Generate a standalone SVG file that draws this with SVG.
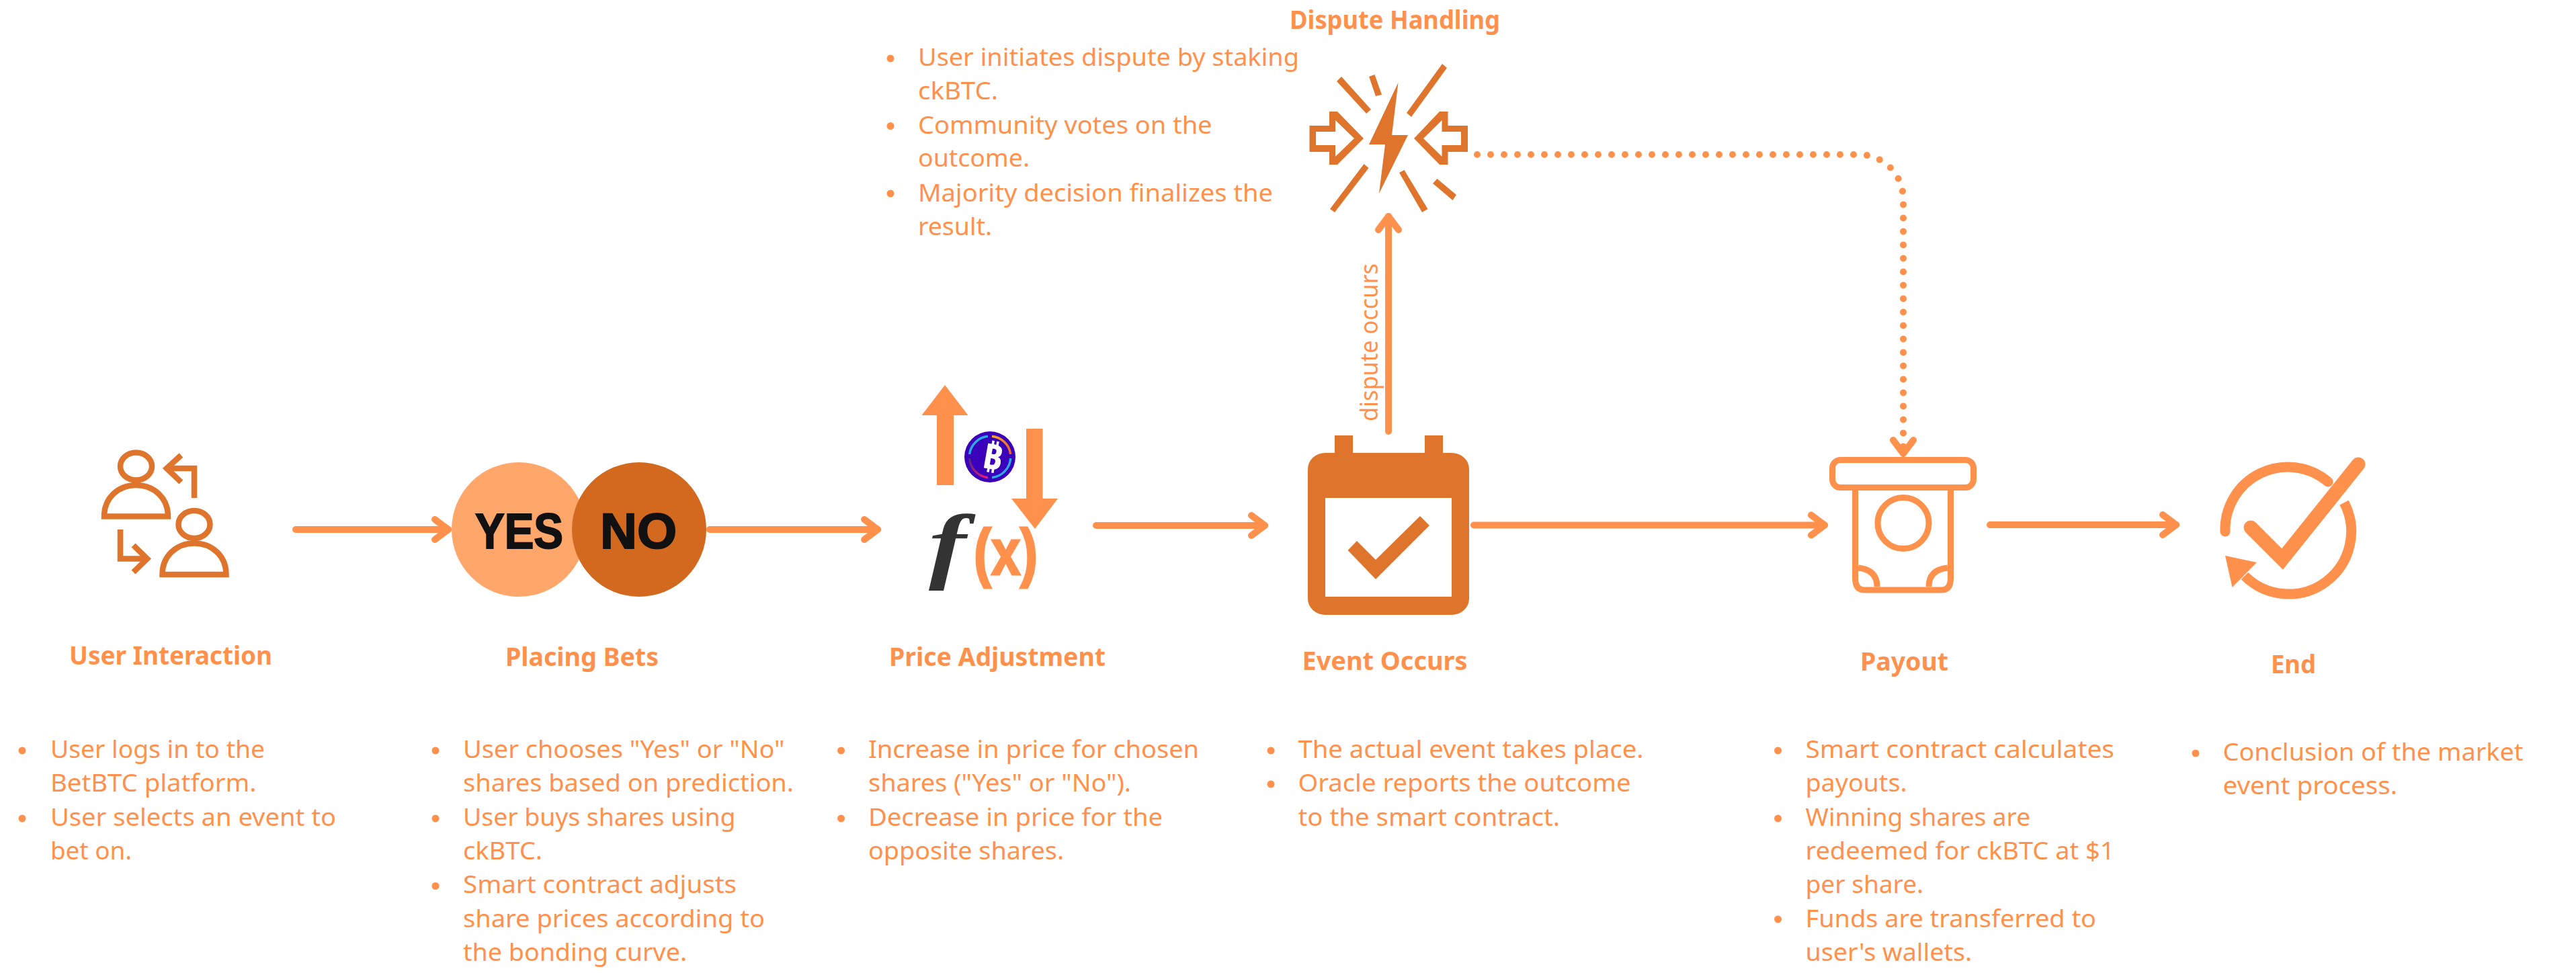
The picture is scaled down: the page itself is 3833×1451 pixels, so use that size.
<svg xmlns="http://www.w3.org/2000/svg" width="3833" height="1451" viewBox="0 0 3833 1451">
<style>
text{font-family:"Noto Sans","Open Sans","Liberation Sans",sans-serif}
.t{font-size:37px;font-weight:700;fill:#FF914D}
.b{font-size:36.7px;font-weight:400;fill:#FF914D}
.d{fill:#FF914D}
.ic{fill:#DF752C}
.ils{fill:none;stroke:#DF752C;stroke-width:8.5;stroke-linejoin:miter}
.ol{fill:none;stroke:#FF914D;stroke-width:9}
.or{fill:#FF914D}
.conn{fill:none;stroke:#FF914D;stroke-width:10;stroke-linecap:round}
.dot{stroke-dasharray:0 20}
.yn{font-family:"Liberation Sans",sans-serif;font-size:75px;font-weight:700;fill:#111;stroke:#111;stroke-width:2}
</style>
<defs>
<marker id="ah" markerUnits="userSpaceOnUse" viewBox="-30 -25 40 50" refX="0" refY="0" markerWidth="40" markerHeight="50" orient="auto" overflow="visible">
<path d="M-20 -15L0 0L-20 15" fill="none" stroke="#FF914D" stroke-width="10" stroke-linecap="round" stroke-linejoin="round"/>
</marker>
<g id="person" class="ils">
<ellipse cx="202.5" cy="694" rx="23.5" ry="20.5"/>
<path d="M155 768.5C155 741 176 722 202.5 722C229 722 250 741 250 768.5Z"/>
</g>
<linearGradient id="g1" x1="0" y1="0" x2="1" y2="1"><stop offset="0" stop-color="#F9A826"/><stop offset="1" stop-color="#ED5E1B"/></linearGradient>
<linearGradient id="g2" x1="0" y1="0" x2="1" y2="1"><stop offset="0" stop-color="#522785"/><stop offset="1" stop-color="#ED1E79"/></linearGradient>
</defs>
<rect width="3833" height="1451" fill="#fff"/>

<g id="connectors">
<path class="conn" marker-end="url(#ah)" d="M440 788H667"/>
<path class="conn" marker-end="url(#ah)" d="M1056 788H1306"/>
<path class="conn" marker-end="url(#ah)" d="M1631 782H1882"/>
<path class="conn" marker-end="url(#ah)" d="M2193 781.500H2715"/>
<path class="conn" marker-end="url(#ah)" d="M2961 781H3238"/>
<path class="conn" marker-end="url(#ah)" d="M2066 642V322"/>
<path class="conn dot" marker-end="url(#ah)" d="M2198 230H2766A66 66 0 0 1 2832 296V675"/>
<text class="b" transform="translate(2050 627) rotate(-90)" x="0" y="0" style="font-size:37px;font-weight:400" textLength="235" lengthAdjust="spacingAndGlyphs">dispute occurs</text>
</g>

<g id="node-user-interaction">
<use href="#person"/>
<use href="#person" transform="translate(86.500 86.500)"/>
<path class="ils" d="M289 741V697H248"/>
<path class="ils" d="M269.500 677.500L248 697L269.500 717.500"/>
<path class="ils" d="M179 788V831.500H219"/>
<path class="ils" d="M198.500 811.500L219 831.500L198.500 851.500"/>
<text class="t" x="103" y="989" textLength="302" lengthAdjust="spacingAndGlyphs">User Interaction</text>
<circle class="d" cx="33" cy="1117" r="5.500"/><circle class="d" cx="33" cy="1218" r="5.500"/>
<text class="b" x="75" y="1128" textLength="319" lengthAdjust="spacingAndGlyphs">User logs in to the</text>
<text class="b" x="75" y="1178" textLength="306.500" lengthAdjust="spacingAndGlyphs">BetBTC platform.</text>
<text class="b" x="75" y="1229" textLength="425" lengthAdjust="spacingAndGlyphs">User selects an event to</text>
<text class="b" x="75" y="1279" textLength="121" lengthAdjust="spacingAndGlyphs">bet on.</text>
</g>

<g id="node-placing-bets">
<circle cx="772" cy="788" r="100" fill="#FFA66B"/>
<circle cx="951" cy="788" r="100" fill="#D2691E"/>
<text class="yn" x="707" y="816" textLength="131" lengthAdjust="spacingAndGlyphs">YES</text>
<text class="yn" x="893" y="816" textLength="114" lengthAdjust="spacingAndGlyphs">NO</text>
<text class="t" x="752" y="991" textLength="228" lengthAdjust="spacingAndGlyphs">Placing Bets</text>
<circle class="d" cx="648" cy="1117" r="5.500"/><circle class="d" cx="648" cy="1218" r="5.500"/><circle class="d" cx="648" cy="1318.500" r="5.500"/>
<text class="b" x="689" y="1128" textLength="478.500" lengthAdjust="spacingAndGlyphs">User chooses "Yes" or "No"</text>
<text class="b" x="689" y="1178" textLength="492" lengthAdjust="spacingAndGlyphs">shares based on prediction.</text>
<text class="b" x="689" y="1229" textLength="405.500" lengthAdjust="spacingAndGlyphs">User buys shares using</text>
<text class="b" x="689" y="1279" textLength="118" lengthAdjust="spacingAndGlyphs">ckBTC.</text>
<text class="b" x="689" y="1329" textLength="407" lengthAdjust="spacingAndGlyphs">Smart contract adjusts</text>
<text class="b" x="689" y="1380" textLength="449" lengthAdjust="spacingAndGlyphs">share prices according to</text>
<text class="b" x="689" y="1430" textLength="333" lengthAdjust="spacingAndGlyphs">the bonding curve.</text>
</g>

<g id="node-price-adjustment">
<polygon class="or" points="1406,573 1440.500,618 1419,618 1419,722 1394,722 1394,618 1371.500,618"/>
<polygon class="or" points="1527,638 1551.500,638 1551.500,742 1574,742 1540,787 1505,742 1527,742"/>
<circle cx="1473" cy="680" r="38" fill="#3B00B9"/>
<g fill="none" stroke-width="3.500">
<path d="M1442.500 676A31 31 0 0 1 1470 649.300" stroke="#29ABE2"/>
<path d="M1476 649.300A31 31 0 0 1 1503.700 676" stroke="url(#g1)"/>
<path d="M1442.500 682A31 31 0 0 0 1470 710.700" stroke="url(#g2)"/>
<path d="M1476 710.700A31 31 0 0 0 1503.700 682" stroke="#29ABE2"/>
</g>
<text transform="translate(1474 698) rotate(10)" text-anchor="middle" style="font-family:'Noto Sans',sans-serif;font-size:52px;font-weight:700;fill:#fff">₿</text>
<text transform="translate(1382 852) scale(1.35 1)" x="0" y="0" style="font-family:'Liberation Serif',serif;font-style:italic;font-weight:700;font-size:124px;fill:#333">f</text>
<text x="1449" y="855" textLength="95" lengthAdjust="spacingAndGlyphs" style="font-family:'Liberation Sans',sans-serif;font-weight:700;font-size:97px;fill:#FF914D;stroke:#FF914D;stroke-width:3">(x)</text>
<text class="t" x="1323" y="991" textLength="322" lengthAdjust="spacingAndGlyphs">Price Adjustment</text>
<circle class="d" cx="1251.500" cy="1117" r="5.500"/><circle class="d" cx="1251.500" cy="1218" r="5.500"/>
<text class="b" x="1292" y="1128" textLength="492" lengthAdjust="spacingAndGlyphs">Increase in price for chosen</text>
<text class="b" x="1292" y="1178" textLength="391" lengthAdjust="spacingAndGlyphs">shares ("Yes" or "No").</text>
<text class="b" x="1292" y="1229" textLength="438" lengthAdjust="spacingAndGlyphs">Decrease in price for the</text>
<text class="b" x="1292" y="1279" textLength="291" lengthAdjust="spacingAndGlyphs">opposite shares.</text>
</g>

<g id="node-event-occurs">
<rect class="ic" x="1986" y="648" width="27" height="40"/>
<rect class="ic" x="2120" y="648" width="27" height="40"/>
<rect class="ic" x="1946" y="674" width="240" height="241" rx="26" ry="24"/>
<rect x="1972" y="741" width="188" height="147" fill="#fff"/>
<polygon class="ic" points="2005.500,819 2019,805 2047,833 2113,768 2127,782 2047,862"/>
<text class="t" x="1937.500" y="997" textLength="246" lengthAdjust="spacingAndGlyphs">Event Occurs</text>
<circle class="d" cx="1891" cy="1117" r="5.500"/><circle class="d" cx="1891" cy="1167" r="5.500"/>
<text class="b" x="1931.500" y="1128" textLength="514" lengthAdjust="spacingAndGlyphs">The actual event takes place.</text>
<text class="b" x="1931.500" y="1178" textLength="495" lengthAdjust="spacingAndGlyphs">Oracle reports the outcome</text>
<text class="b" x="1931.500" y="1229" textLength="389.500" lengthAdjust="spacingAndGlyphs">to the smart contract.</text>
</g>

<g id="node-dispute-handling">
<polygon class="ic" points="2080.500,123 2071,201 2095,201 2052,288 2061,215 2037,215"/>
<polygon class="ic" points="2146,95 2153,101 2100,174 2093,168"/>
<polygon class="ic" points="1996,114 1989,121 2033,169 2040,163"/>
<polygon class="ic" points="2045.500,111 2037,114 2047,143 2056,141"/>
<polygon class="ic" points="2029.500,244 2036.500,250 1986,316 1979,311"/>
<polygon class="ic" points="2089.500,253 2082,257 2116,316 2124.500,311"/>
<polygon class="ic" points="2138.500,266 2132,273 2161.500,298 2167,290"/>
<path class="ic" fill-rule="evenodd" d="M1948.500 187H1978V166H1990L2029 206L1990 245H1978V226H1948.500ZM1958 196V216H1987V233L2015 206L1987 179V196Z"/>
<path class="ic" fill-rule="evenodd" d="M2184 187H2154.500V166H2142L2104 206L2142 245H2154.500V226H2184ZM2174 196V216H2145.500V233L2118 206L2145.500 179V196Z"/>
<text class="t" x="1919" y="43" textLength="313" lengthAdjust="spacingAndGlyphs">Dispute Handling</text>
<circle class="d" cx="1325" cy="87" r="5.500"/><circle class="d" cx="1325" cy="187.500" r="5.500"/><circle class="d" cx="1325" cy="288" r="5.500"/>
<text class="b" x="1366" y="98" textLength="567" lengthAdjust="spacingAndGlyphs">User initiates dispute by staking</text>
<text class="b" x="1366" y="148" textLength="119" lengthAdjust="spacingAndGlyphs">ckBTC.</text>
<text class="b" x="1366" y="199" textLength="437.500" lengthAdjust="spacingAndGlyphs">Community votes on the</text>
<text class="b" x="1366" y="248" textLength="166" lengthAdjust="spacingAndGlyphs">outcome.</text>
<text class="b" x="1366" y="300" textLength="528" lengthAdjust="spacingAndGlyphs">Majority decision finalizes the</text>
<text class="b" x="1366" y="350" textLength="110" lengthAdjust="spacingAndGlyphs">result.</text>
</g>

<g id="node-payout">
<rect class="ol" x="2726.500" y="684.500" width="210" height="41" rx="12"/>
<path class="ol" d="M2760.500 730V860Q2760.500 878 2774 878H2889Q2902.500 878 2902.500 860V730"/>
<circle class="ol" cx="2832" cy="778.500" r="38"/>
<path class="ol" d="M2765 845Q2793 848 2793 873M2898 845Q2870 848 2870 873"/>
<text class="t" x="2768" y="998" textLength="131" lengthAdjust="spacingAndGlyphs">Payout</text>
<circle class="d" cx="2645.500" cy="1117" r="5.500"/><circle class="d" cx="2645.500" cy="1218" r="5.500"/><circle class="d" cx="2645.500" cy="1368" r="5.500"/>
<text class="b" x="2686.500" y="1128" textLength="459.500" lengthAdjust="spacingAndGlyphs">Smart contract calculates</text>
<text class="b" x="2686.500" y="1178" textLength="151" lengthAdjust="spacingAndGlyphs">payouts.</text>
<text class="b" x="2686.500" y="1229" textLength="334.500" lengthAdjust="spacingAndGlyphs">Winning shares are</text>
<text class="b" x="2686.500" y="1279" textLength="460" lengthAdjust="spacingAndGlyphs">redeemed for ckBTC at $1</text>
<text class="b" x="2686.500" y="1329" textLength="175.500" lengthAdjust="spacingAndGlyphs">per share.</text>
<text class="b" x="2686.500" y="1380" textLength="432.500" lengthAdjust="spacingAndGlyphs">Funds are transferred to</text>
<text class="b" x="2686.500" y="1430" textLength="247.500" lengthAdjust="spacingAndGlyphs">user's wallets.</text>
</g>

<g id="node-end">
<path d="M3311 791A93 93 0 0 1 3464 717" fill="none" stroke="#FF914D" stroke-width="15" stroke-linecap="round"/>
<path d="M3488 748A93 93 0 0 1 3340 857" fill="none" stroke="#FF914D" stroke-width="15"/>
<polygon class="or" points="3311,827 3358,837 3321.500,874"/>
<path d="M3349 785L3396 832L3509 691" fill="none" stroke="#FF914D" stroke-width="21" stroke-linecap="round" stroke-linejoin="miter"/>
<text class="t" x="3379" y="1002" textLength="67" lengthAdjust="spacingAndGlyphs">End</text>
<circle class="d" cx="3267" cy="1121" r="5.500"/>
<text class="b" x="3307.500" y="1132" textLength="447" lengthAdjust="spacingAndGlyphs">Conclusion of the market</text>
<text class="b" x="3307.500" y="1182" textLength="259.500" lengthAdjust="spacingAndGlyphs">event process.</text>
</g>
</svg>
